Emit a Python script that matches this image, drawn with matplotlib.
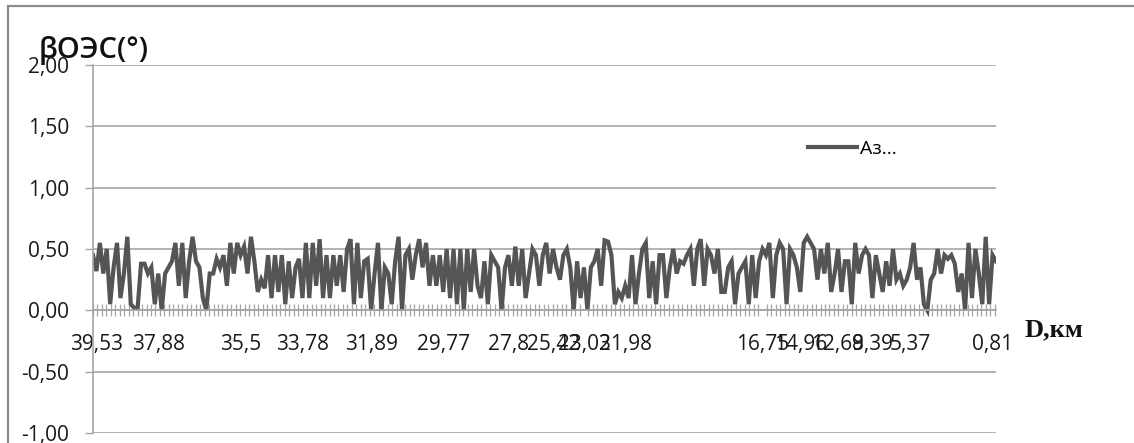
import matplotlib.pyplot as plt
import numpy as np
from matplotlib.ticker import MultipleLocator, FixedLocator, FixedFormatter
from matplotlib.patches import Rectangle

plt.rcParams['font.family'] = ['Open Sans', 'DejaVu Sans']

# Angle series along the track (degrees), sampled from far end to near end
beta = [
    0.45, 0.32, 0.55, 0.3, 0.5, 0.05, 0.35, 0.55, 0.1, 0.3, 0.6, 0.05, 0.02, 0.02,
    0.38, 0.38, 0.3, 0.35, 0.05, 0.3, 0.0, 0.3, 0.35, 0.4, 0.55, 0.2, 0.55, 0.1,
    0.4, 0.6, 0.4, 0.35, 0.1, 0.0, 0.3, 0.3, 0.42, 0.35, 0.45, 0.2, 0.55, 0.3,
    0.55, 0.45, 0.52, 0.3, 0.6, 0.4, 0.15, 0.25, 0.18, 0.45, 0.1, 0.45, 0.15, 0.45,
    0.05, 0.4, 0.1, 0.35, 0.42, 0.1, 0.55, 0.1, 0.55, 0.2, 0.58, 0.1, 0.45, 0.1,
    0.45, 0.2, 0.45, 0.15, 0.5, 0.58, 0.05, 0.55, 0.1, 0.4, 0.42, 0.0,
    0.3, 0.55, 0.0, 0.35, 0.3, 0.05, 0.4, 0.6, 0.0, 0.45, 0.5, 0.25, 0.45, 0.58,
    0.35, 0.55, 0.2, 0.45, 0.2, 0.45, 0.15, 0.5, 0.1, 0.5, 0.05, 0.5, 0.0, 0.5,
    0.15, 0.5, 0.2, 0.1, 0.4, 0.05, 0.45, 0.4, 0.35, 0.0, 0.35, 0.45, 0.2, 0.52,
    0.2, 0.5, 0.1, 0.3, 0.5, 0.45, 0.2, 0.45, 0.55, 0.3, 0.5, 0.35, 0.25, 0.45,
    0.5, 0.35, 0.0, 0.4, 0.1, 0.35, 0.0, 0.35, 0.4, 0.5, 0.2, 0.57, 0.56, 0.45,
    0.05, 0.15, 0.1, 0.2, 0.1, 0.45, 0.05, 0.3, 0.5, 0.55, 0.1, 0.4, 0.05, 0.45,
    0.45, 0.1, 0.35, 0.5, 0.3, 0.4, 0.38, 0.45, 0.5, 0.2, 0.5, 0.58, 0.2, 0.5,
    0.45, 0.3, 0.5, 0.15, 0.15, 0.35, 0.4, 0.05, 0.3, 0.35,
    0.4, 0.05, 0.45, 0.1, 0.4, 0.5, 0.45, 0.55, 0.1, 0.45, 0.55, 0.5, 0.05, 0.5,
    0.45, 0.35, 0.15, 0.55, 0.6, 0.55, 0.5, 0.25, 0.5, 0.3, 0.55, 0.15, 0.3, 0.5,
    0.15, 0.4, 0.4, 0.05, 0.55, 0.3, 0.45, 0.5, 0.45, 0.1, 0.45, 0.3, 0.15, 0.4,
    0.2, 0.5, 0.25, 0.3, 0.2, 0.25, 0.35, 0.55, 0.25, 0.35, 0.05, 0.0, 0.25, 0.3,
    0.5, 0.3, 0.45, 0.42, 0.45, 0.38, 0.15, 0.3, 0.0, 0.55, 0.1, 0.5, 0.3, 0.05,
    0.6, 0.05, 0.45, 0.4,
]

# Distance labels (km) and the sample index each one sits at
dist_labels = ['39,53', '37,88', '35,5', '33,78', '31,89', '29,77', '27,8', '25,42',
               '23,03', '21,98', '16,75', '14,96', '12,68', '9,39', '5,37', '0,81']
dist_idx = [1, 19, 43, 61, 81, 102, 121, 134, 143, 155, 195, 206, 217, 227, 238, 262]

y_ticks = [-1.0, -0.5, 0.0, 0.5, 1.0, 1.5, 2.0]
y_labels = ['-1,00', '-0,50', '0,00', '0,50', '1,00', '1,50', '2,00']

grey = '#a6a6a6'

fig = plt.figure(figsize=(11.34, 4.43), dpi=100)
ax = fig.add_axes([93 / 1134, 10 / 443, 903 / 1134, 368 / 443])

x = np.arange(len(beta))
ax.plot(x, beta, color='#555555', lw=3.0, label='Аз...', solid_joinstyle='miter')

ax.set_xlim(0, len(beta) - 1)
ax.set_ylim(-1, 2)

# y axis
ax.yaxis.set_major_locator(FixedLocator(y_ticks))
ax.yaxis.set_major_formatter(FixedFormatter(y_labels))
ax.tick_params(axis='y', direction='out', length=6, width=1, color=grey,
               labelsize=15, pad=11, labelcolor='#1a1a1a')
ax.grid(axis='y', color=grey, lw=1.2)
ax.set_axisbelow(True)

# x axis runs along y = 0
ax.spines['top'].set_visible(False)
ax.spines['right'].set_visible(False)
ax.spines['left'].set_color(grey)
ax.spines['left'].set_linewidth(1.2)
ax.spines['bottom'].set_position(('data', 0))
ax.spines['bottom'].set_color(grey)
ax.spines['bottom'].set_linewidth(1.2)
ax.xaxis.set_major_locator(FixedLocator(dist_idx))
ax.xaxis.set_major_formatter(FixedFormatter(dist_labels))
ax.xaxis.set_minor_locator(MultipleLocator(1.3))
ax.tick_params(axis='x', which='major', length=0, labelsize=15, pad=17,
               labelcolor='#1a1a1a')
ax.tick_params(axis='x', which='minor', direction='inout', length=9,
               width=0.9, color=grey)

ax.legend(loc='center left', bbox_to_anchor=(808 / 1134, 1 - 149 / 443),
          bbox_transform=fig.transFigure, frameon=False, fontsize=14,
          borderaxespad=0, borderpad=0, handlelength=2.5, handletextpad=0.15)

fig.text(39 / 1134, 1 - 58 / 443, 'βОЭС(°)', fontsize=21, fontweight='semibold',
         ha='left', va='baseline', color='#111111')
fig.text(1025 / 1134, 1 - 336 / 443, 'D,км', fontsize=19, fontweight='bold',
         family=['Liberation Serif', 'DejaVu Serif'], ha='left', va='baseline',
         color='#111111')

# chart border
fig.add_artist(Rectangle((8 / 1134, -0.1), 1.2, 1.1 - 6 / 443, transform=fig.transFigure,
                         fill=False, edgecolor='#8c8c8c', lw=1.6))

fig.savefig('out.png', dpi=100)
